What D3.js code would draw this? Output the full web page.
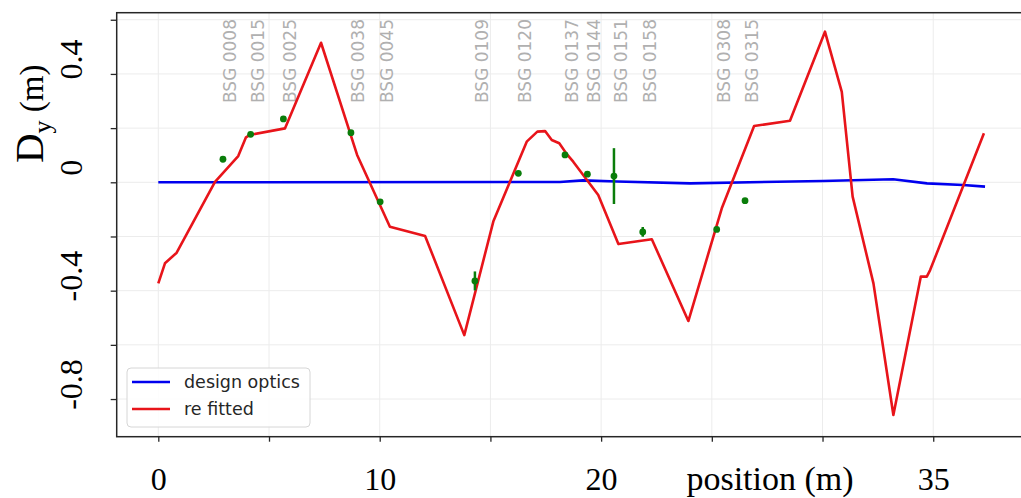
<!DOCTYPE html>
<html>
<head>
<meta charset="utf-8">
<script src="https://cdn.jsdelivr.net/npm/d3@7"></script>
<style>
  html, body { margin: 0; padding: 0; background: #fff; overflow: hidden; }
  svg { display: block; }
</style>
</head>
<body>
<svg id="chart" width="1021" height="498"></svg>
<script>
// Beam position monitors: name, position along the line (m), measured Dy (m) and error
const bpmNames = ["BSG 0008", "BSG 0015", "BSG 0025", "BSG 0038", "BSG 0045", "BSG 0109",
  "BSG 0120", "BSG 0137", "BSG 0144", "BSG 0151", "BSG 0158", "BSG 0308", "BSG 0315"];
const bpmPos = [2.92, 4.17, 5.65, 8.70, 10.02, 14.30, 16.26, 18.37, 19.38, 20.58, 21.88, 25.22, 26.50];
const bpmDy  = [0.085, 0.177, 0.234, 0.183, -0.072, -0.364, 0.033, 0.101, 0.030, 0.023, -0.183, -0.174, -0.068];
const bpmErr = [0.005, 0.005, 0.005, 0.005, 0.005, 0.035, 0.008, 0.005, 0.005, 0.103, 0.018, 0.005, 0.010];

// Design optics dispersion
const designS  = [0, 18.14, 19.18, 20.72, 24.02, 30.02, 33.19, 34.72, 36.35, 37.34];
const designDy = [0, 0.001, 0.007, 0.003, -0.004, 0.005, 0.011, -0.004, -0.010, -0.016];

// Re-fitted dispersion
const fitS  = [0, 0.30, 0.83, 2.56, 3.61, 3.96, 4.14, 5.72, 7.35, 8.98, 10.46, 12.05, 13.82,
  15.13, 16.64, 17.12, 17.47, 17.77, 18.11, 18.45, 18.74, 19.87, 20.78, 22.29, 23.94, 25.45,
  26.91, 28.53, 30.11, 30.87, 31.36, 32.30, 33.20, 34.44, 34.71, 34.86, 37.29];
const fitDy = [-0.373, -0.299, -0.260, 0.002, 0.097, 0.166, 0.175, 0.199, 0.515, 0.101, -0.164,
  -0.198, -0.564, -0.145, 0.150, 0.187, 0.189, 0.156, 0.144, 0.104, 0.076, -0.047, -0.228,
  -0.210, -0.512, -0.096, 0.208, 0.227, 0.556, 0.334, -0.053, -0.373, -0.859, -0.348, -0.348,
  -0.324, 0.181];

// Axis ticks and the labels shown on them
const xTickValues = [0, 5, 10, 15, 20, 25, 30, 35];
const xTickLabels = ["0", "", "10", "", "20", "", "", "35"];
const yTickValues = [-0.8, -0.6, -0.4, -0.2, 0, 0.2, 0.4, 0.6];
const yTickLabels = ["-0.8", "", "-0.4", "", "0", "", "0.4", ""];

const legendLabels = ["design optics", "re fitted"];
const legendColors = ["#0000ee", "#e8141a"];

const svg = d3.select("#chart");
const plotL = 116.7, plotR = 1026, plotT = 12.7, plotB = 436.7;

const x = d3.scaleLinear().domain([-1.879, 39.19]).range([plotL, plotR]);
const y = d3.scaleLinear().domain([-0.939, 0.626]).range([plotB, plotT]);

const serif = "'Liberation Serif', 'Times New Roman', serif";
const sans = "'DejaVu Sans', sans-serif";

// grid
const grid = svg.append("g").attr("stroke", "#ececec").attr("stroke-width", 1);
grid.selectAll("line.gx").data(xTickValues).join("line").attr("class", "gx")
  .attr("x1", d => x(d)).attr("x2", d => x(d)).attr("y1", plotT).attr("y2", plotB);
grid.selectAll("line.gy").data(yTickValues).join("line").attr("class", "gy")
  .attr("x1", plotL).attr("x2", plotR).attr("y1", d => y(d)).attr("y2", d => y(d));

// BPM labels above the traces
svg.append("g").selectAll("text").data(bpmNames).join("text")
  .attr("transform", (d, i) => `translate(${x(bpmPos[i]) + 13},103) rotate(-90)`)
  .attr("font-family", sans).attr("font-size", 17).attr("fill", "#b0b0b0")
  .text(d => d);

const line = d3.line().x(d => x(d[0])).y(d => y(d[1]));

svg.append("path")
  .datum(designS.map((s, i) => [s, designDy[i]]))
  .attr("d", line).attr("fill", "none")
  .attr("stroke", legendColors[0]).attr("stroke-width", 2.6);

svg.append("path")
  .datum(fitS.map((s, i) => [s, fitDy[i]]))
  .attr("d", line).attr("fill", "none")
  .attr("stroke", legendColors[1]).attr("stroke-width", 2.6)
  .attr("stroke-linejoin", "round");

// measured points with error bars
const meas = svg.append("g").attr("fill", "#0a7d0a").attr("stroke", "#0a7d0a");
meas.selectAll("line").data(bpmPos).join("line")
  .attr("x1", d => x(d)).attr("x2", d => x(d))
  .attr("y1", (d, i) => y(bpmDy[i] + bpmErr[i]))
  .attr("y2", (d, i) => y(bpmDy[i] - bpmErr[i]))
  .attr("stroke-width", 2.5);
meas.selectAll("circle").data(bpmPos).join("circle")
  .attr("cx", d => x(d)).attr("cy", (d, i) => y(bpmDy[i]))
  .attr("r", 3.4).attr("stroke", "none");

// frame
svg.append("rect")
  .attr("x", plotL).attr("y", plotT).attr("width", plotR - plotL).attr("height", plotB - plotT)
  .attr("fill", "none").attr("stroke", "#262626").attr("stroke-width", 1.5);

// x axis
const xAxis = svg.append("g").attr("transform", `translate(0,${plotB})`)
  .call(d3.axisBottom(x).tickValues(xTickValues)
    .tickFormat((d, i) => xTickLabels[i]).tickSize(5).tickSizeOuter(0));
xAxis.select(".domain").remove();
xAxis.selectAll(".tick line").attr("stroke", "#262626").attr("stroke-width", 1.3);
xAxis.selectAll(".tick text")
  .attr("y", 53.3).attr("dy", null)
  .attr("font-family", serif).attr("font-size", 32).attr("fill", "#000");

// y axis
const yAxis = svg.append("g").attr("transform", `translate(${plotL},0)`)
  .call(d3.axisLeft(y).tickValues(yTickValues)
    .tickFormat((d, i) => yTickLabels[i]).tickSize(6).tickSizeOuter(0));
yAxis.select(".domain").remove();
yAxis.selectAll(".tick line").attr("stroke", "#262626").attr("stroke-width", 1.3);
yAxis.selectAll(".tick text")
  .attr("x", null).attr("dy", null)
  .attr("text-anchor", "middle")
  .attr("transform", "translate(-34.7,-15) rotate(-90)")
  .attr("font-family", serif).attr("font-size", 32).attr("fill", "#000");

// axis titles
svg.append("text")
  .attr("x", 770).attr("y", 490).attr("text-anchor", "middle")
  .attr("font-family", serif).attr("font-size", 34).attr("fill", "#000")
  .text("position (m)");

const yTitle = svg.append("text")
  .attr("transform", "translate(43,163) rotate(-90)")
  .attr("font-family", serif).attr("fill", "#000");
yTitle.append("tspan").attr("font-size", 41).text("D");
yTitle.append("tspan").attr("font-size", 26).attr("dy", 8).text("y");
yTitle.append("tspan").attr("font-size", 33).attr("dy", -8).text(" (m)");

// legend
const lg = svg.append("g");
lg.append("rect")
  .attr("x", 127).attr("y", 368).attr("width", 183).attr("height", 59).attr("rx", 4)
  .attr("fill", "#fff").attr("fill-opacity", 0.85)
  .attr("stroke", "#d6d6d6").attr("stroke-width", 1);
legendLabels.forEach((lab, i) => {
  const cy = 382 + i * 27;
  lg.append("line").attr("x1", 132).attr("x2", 170).attr("y1", cy).attr("y2", cy)
    .attr("stroke", legendColors[i]).attr("stroke-width", 2.6);
  lg.append("text").attr("x", 184).attr("y", cy + 5.5)
    .attr("font-family", sans).attr("font-size", 17.5).attr("fill", "#262626")
    .text(lab);
});
</script>
</body>
</html>
